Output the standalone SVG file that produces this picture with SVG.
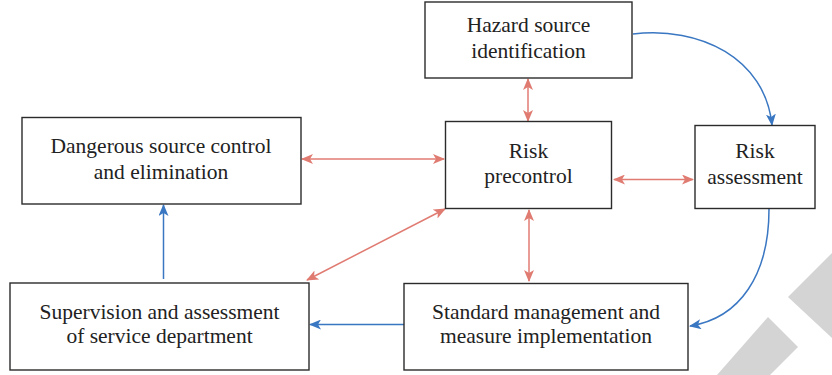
<svg xmlns="http://www.w3.org/2000/svg" width="832" height="375" viewBox="0 0 832 375">
<style>
.box{fill:#fff;stroke:#2b2b2b;stroke-width:1.4}
.t{font-size:21.5px;fill:#222;text-anchor:middle}
.red{fill:none;stroke:#e07b72;stroke-width:1.5}
.blue{fill:none;stroke:#3a77c2;stroke-width:1.5}
</style>
<defs>
<marker id="ar" viewBox="0 0 12 10" refX="11" refY="5" markerWidth="12" markerHeight="10" markerUnits="userSpaceOnUse" orient="auto-start-reverse">
<path d="M0,0 L12,5 L0,10 L3,5 Z" fill="#e07b72"/>
</marker>
<marker id="ab" viewBox="0 0 12 10" refX="11" refY="5" markerWidth="12" markerHeight="10" markerUnits="userSpaceOnUse" orient="auto">
<path d="M0,0 L12,5 L0,10 L3,5 Z" fill="#3a77c2"/>
</marker>
</defs>
<rect width="832" height="375" fill="#fff"/>
<g id="watermark" fill="#d4d4d4">
<polygon points="717,375 768,317 798,347 770,375"/>
<polygon points="788,297 832,253 832,338"/>
</g>
<g id="connectors">
<line class="red" x1="528" y1="79" x2="528" y2="121" marker-start="url(#ar)" marker-end="url(#ar)"/>
<line class="red" x1="302" y1="159" x2="444" y2="159" marker-start="url(#ar)" marker-end="url(#ar)"/>
<line class="red" x1="614" y1="179.5" x2="693" y2="179.5" marker-start="url(#ar)" marker-end="url(#ar)"/>
<line class="red" x1="529" y1="210" x2="529" y2="281" marker-start="url(#ar)" marker-end="url(#ar)"/>
<line class="red" x1="445" y1="209" x2="307" y2="280" marker-start="url(#ar)" marker-end="url(#ar)"/>
<line class="blue" x1="163.5" y1="279" x2="163.5" y2="205" marker-end="url(#ab)"/>
<line class="blue" x1="404" y1="324.5" x2="310" y2="324.5" marker-end="url(#ab)"/>
<path class="blue" d="M633,34 C700,26 765,58 772,125" marker-end="url(#ab)"/>
<path class="blue" d="M769,209 C769,275 740,318 690,326" marker-end="url(#ab)"/>
</g>
<g font-family="'Liberation Serif', 'DejaVu Serif', serif">
<g id="hazard">
<rect class="box" x="425" y="2" width="207" height="76"/>
<text class="t" x="528.5" y="32">Hazard source</text>
<text class="t" x="528.5" y="58">identification</text>
</g>
<g id="dangerous">
<rect class="box" x="22" y="117.5" width="279" height="86.5"/>
<text class="t" x="161" y="153">Dangerous source control</text>
<text class="t" x="161" y="179">and elimination</text>
</g>
<g id="precontrol">
<rect class="box" x="445.5" y="121.5" width="166" height="87"/>
<text class="t" x="528.5" y="157.5">Risk</text>
<text class="t" x="528.5" y="182.5">precontrol</text>
</g>
<g id="assessment">
<rect class="box" x="695" y="125.5" width="120" height="83"/>
<text class="t" x="755" y="158">Risk</text>
<text class="t" x="755" y="184">assessment</text>
</g>
<g id="supervision">
<rect class="box" x="10" y="283" width="299" height="87"/>
<text class="t" x="159.5" y="319">Supervision and assessment</text>
<text class="t" x="159.5" y="343">of service department</text>
</g>
<g id="standard">
<rect class="box" x="404" y="283.5" width="284" height="86.5"/>
<text class="t" x="546" y="319">Standard management and</text>
<text class="t" x="546" y="343">measure implementation</text>
</g>
</g>
</svg>
